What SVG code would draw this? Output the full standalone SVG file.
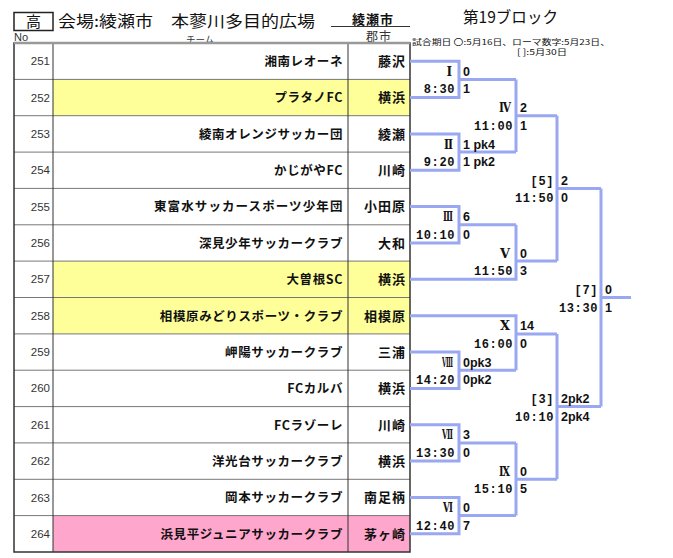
<svg xmlns="http://www.w3.org/2000/svg" width="673" height="558" viewBox="0 0 673 558">
<style>
.jp{font-family:"Noto Sans CJK JP","Liberation Sans",sans-serif}
.no{font-family:"Liberation Sans",sans-serif;font-size:11.5px;fill:#333;text-anchor:end}
.team{font-family:"Noto Sans CJK JP",sans-serif;font-size:12.5px;font-weight:bold;fill:#111;text-anchor:end;letter-spacing:0.6px}
.city{font-family:"Noto Sans CJK JP",sans-serif;font-size:13px;font-weight:bold;fill:#111;text-anchor:end;letter-spacing:1px}
.rn{font-family:"DejaVu Serif","Noto Sans CJK JP",serif;font-size:12px;font-weight:bold;fill:#111;text-anchor:end}
.tm{font-family:"Liberation Mono",monospace;font-size:12px;font-weight:bold;fill:#111;text-anchor:end;letter-spacing:0.6px}
.sc{font-family:"Liberation Sans",sans-serif;font-size:12.5px;font-weight:bold;fill:#111}
.ln{fill:none;stroke:#9aa8f2;stroke-width:3}
.rowline{stroke:#777;stroke-width:1}
</style>
<rect width="673" height="558" fill="#fff"/>
<g id="header">
<rect x="14" y="12.5" width="39" height="18" fill="#fff" stroke="#222" stroke-width="1.5"/>
<text x="33.5" y="27" class="jp" font-size="15" text-anchor="middle" fill="#111">高</text>
<text x="58" y="27" class="jp" font-size="15.5" fill="#111" textLength="257" lengthAdjust="spacingAndGlyphs">会場:綾瀬市　本蓼川多目的広場</text>
<text x="352" y="24" class="jp" font-size="13" font-weight="bold" fill="#111" letter-spacing="1">綾瀬市</text>
<line x1="331" y1="26.5" x2="410" y2="26.5" stroke="#333" stroke-width="1"/>
<text x="463" y="22.5" class="jp" font-size="16" fill="#111" textLength="95" lengthAdjust="spacingAndGlyphs">第19ブロック</text>
<text x="14" y="41" font-family="Liberation Sans, sans-serif" font-size="11" fill="#333">No</text>
<text x="200" y="42.5" class="jp" font-size="9.5" fill="#333" text-anchor="middle">チーム</text>
<text x="392" y="41" class="jp" font-size="12" fill="#333" text-anchor="end" letter-spacing="1">郡市</text>
<text x="412" y="44.5" class="jp" font-size="8" fill="#111" textLength="198" lengthAdjust="spacingAndGlyphs">試合期日 〇:5月16日、ローマ数字:5月23日、</text>
<text x="517" y="55" class="jp" font-size="8" fill="#111" textLength="50" lengthAdjust="spacingAndGlyphs">[ ]:5月30日</text>
</g>
<g id="table">
<rect x="53" y="79.4" width="357" height="36.4" fill="#ffff99"/>
<rect x="53" y="261.1" width="357" height="72.7" fill="#ffff99"/>
<rect x="53" y="515.6" width="357" height="36.4" fill="#ffa6cc"/>
<g class="rowline">
<line x1="14" y1="79.4" x2="410" y2="79.4"/><line x1="14" y1="115.7" x2="410" y2="115.7"/>
<line x1="14" y1="152.1" x2="410" y2="152.1"/><line x1="14" y1="188.4" x2="410" y2="188.4"/>
<line x1="14" y1="224.8" x2="410" y2="224.8"/><line x1="14" y1="261.1" x2="410" y2="261.1"/>
<line x1="14" y1="297.5" x2="410" y2="297.5"/><line x1="14" y1="333.9" x2="410" y2="333.9"/>
<line x1="14" y1="370.2" x2="410" y2="370.2"/><line x1="14" y1="406.6" x2="410" y2="406.6"/>
<line x1="14" y1="442.9" x2="410" y2="442.9"/><line x1="14" y1="479.3" x2="410" y2="479.3"/>
<line x1="14" y1="515.6" x2="410" y2="515.6"/>
</g>
<line x1="53" y1="43" x2="53" y2="552" stroke="#333" stroke-width="1"/>
<line x1="348" y1="43" x2="348" y2="552" stroke="#333" stroke-width="1"/>
<rect x="14" y="43" width="396" height="509" fill="none" stroke="#333" stroke-width="1.5"/>
<line x1="14" y1="43" x2="410" y2="43" stroke="#999" stroke-width="2.5"/>
</g>
<g id="team-251"><text class="no" x="50" y="65.2">251</text><text class="team" x="343" y="66">湘南レオーネ</text><text class="city" x="406" y="66">藤沢</text></g>
<g id="team-252"><text class="no" x="50" y="101.5">252</text><text class="team" x="343" y="102.3">プラタノFC</text><text class="city" x="406" y="102.3">横浜</text></g>
<g id="team-253"><text class="no" x="50" y="137.9">253</text><text class="team" x="343" y="138.7">綾南オレンジサッカー団</text><text class="city" x="406" y="138.7">綾瀬</text></g>
<g id="team-254"><text class="no" x="50" y="174.2">254</text><text class="team" x="343" y="175">かじがやFC</text><text class="city" x="406" y="175">川崎</text></g>
<g id="team-255"><text class="no" x="50" y="210.6">255</text><text class="team" x="343" y="211.4" textLength="189" lengthAdjust="spacing">東富水サッカースポーツ少年団</text><text class="city" x="406" y="211.4">小田原</text></g>
<g id="team-256"><text class="no" x="50" y="247">256</text><text class="team" x="343" y="247.8">深見少年サッカークラブ</text><text class="city" x="406" y="247.8">大和</text></g>
<g id="team-257"><text class="no" x="50" y="283.3">257</text><text class="team" x="343" y="284.1">大曽根SC</text><text class="city" x="406" y="284.1">横浜</text></g>
<g id="team-258"><text class="no" x="50" y="319.7">258</text><text class="team" x="343" y="320.5">相模原みどりスポーツ・クラブ</text><text class="city" x="406" y="320.5">相模原</text></g>
<g id="team-259"><text class="no" x="50" y="356">259</text><text class="team" x="343" y="356.8">岬陽サッカークラブ</text><text class="city" x="406" y="356.8">三浦</text></g>
<g id="team-260"><text class="no" x="50" y="392.4">260</text><text class="team" x="343" y="393.2">FCカルバ</text><text class="city" x="406" y="393.2">横浜</text></g>
<g id="team-261"><text class="no" x="50" y="428.8">261</text><text class="team" x="343" y="429.6">FCラゾーレ</text><text class="city" x="406" y="429.6">川崎</text></g>
<g id="team-262"><text class="no" x="50" y="465.1">262</text><text class="team" x="343" y="465.9">洋光台サッカークラブ</text><text class="city" x="406" y="465.9">横浜</text></g>
<g id="team-263"><text class="no" x="50" y="501.5">263</text><text class="team" x="343" y="502.3">岡本サッカークラブ</text><text class="city" x="406" y="502.3">南足柄</text></g>
<g id="team-264"><text class="no" x="50" y="537.8">264</text><text class="team" x="343" y="538.6">浜見平ジュニアサッカークラブ</text><text class="city" x="406" y="538.6">茅ヶ崎</text></g>
<g id="connectors" class="ln">
<path d="M410 61.2H459V97.5H410M459 79.4H516"/>
<path d="M410 133.9H459V170.3H410M459 152.1H516"/>
<path d="M516 79.4V152.1M516 115.7H557"/>
<path d="M410 206.6H459V243H410M459 224.8H516"/>
<path d="M516 224.8V279.3H410M516 261.1H557"/>
<path d="M557 115.7V261.1M557 188.4H601"/>
<path d="M410 315.7H516V370.2M516 333.9H557"/>
<path d="M410 352H459V388.4H410M459 370.2H516"/>
<path d="M410 424.8H459V461.1H410M459 442.9H516"/>
<path d="M410 497.5H459V533.8H410M459 515.6H516"/>
<path d="M516 442.9V515.6M516 479.3H557"/>
<path d="M557 333.9V479.3M557 406.6H601"/>
<path d="M601 188.4V406.6M601 297.5H631"/>
</g>
<g id="match-I"><text class="rn" x="452" y="75.9">Ⅰ</text><text class="tm" x="455" y="93.4">8:30</text><text class="sc" x="463" y="75.9">0</text><text class="sc" x="463" y="93.4">1</text></g>
<g id="match-II"><text class="rn" x="453" y="148.6" textLength="9" lengthAdjust="spacingAndGlyphs">Ⅱ</text><text class="tm" x="455" y="166.1">9:20</text><text class="sc" x="463" y="148.6">1 pk4</text><text class="sc" x="463" y="166.1">1 pk2</text></g>
<g id="match-III"><text class="rn" x="453" y="221.3" textLength="10" lengthAdjust="spacingAndGlyphs">Ⅲ</text><text class="tm" x="455" y="238.8">10:10</text><text class="sc" x="463" y="221.3">6</text><text class="sc" x="463" y="238.8">0</text></g>
<g id="match-VIII"><text class="rn" x="453" y="366.7" textLength="11" lengthAdjust="spacingAndGlyphs">Ⅷ</text><text class="tm" x="455" y="384.2">14:20</text><text class="sc" x="463" y="366.7">0pk3</text><text class="sc" x="463" y="384.2">0pk2</text></g>
<g id="match-VII"><text class="rn" x="453" y="439.4" textLength="11" lengthAdjust="spacingAndGlyphs">Ⅶ</text><text class="tm" x="455" y="456.9">13:30</text><text class="sc" x="463" y="439.4">3</text><text class="sc" x="463" y="456.9">0</text></g>
<g id="match-VI"><text class="rn" x="453" y="512.1" textLength="10" lengthAdjust="spacingAndGlyphs">Ⅵ</text><text class="tm" x="455" y="529.6">12:40</text><text class="sc" x="463" y="512.1">0</text><text class="sc" x="463" y="529.6">7</text></g>
<g id="match-IV"><text class="rn" x="511" y="112.2" textLength="12" lengthAdjust="spacingAndGlyphs">Ⅳ</text><text class="tm" x="513" y="129.7">11:00</text><text class="sc" x="520" y="112.2">2</text><text class="sc" x="520" y="129.7">1</text></g>
<g id="match-V"><text class="rn" x="510" y="257.6" textLength="10" lengthAdjust="spacingAndGlyphs">Ⅴ</text><text class="tm" x="513" y="275.1">11:50</text><text class="sc" x="520" y="257.6">0</text><text class="sc" x="520" y="275.1">3</text></g>
<g id="match-X"><text class="rn" x="510" y="330.4" textLength="10" lengthAdjust="spacingAndGlyphs">Ⅹ</text><text class="tm" x="513" y="347.9">16:00</text><text class="sc" x="520" y="330.4">14</text><text class="sc" x="520" y="347.9">0</text></g>
<g id="match-IX"><text class="rn" x="510" y="475.8" textLength="11" lengthAdjust="spacingAndGlyphs">Ⅸ</text><text class="tm" x="513" y="493.3">15:10</text><text class="sc" x="520" y="475.8">0</text><text class="sc" x="520" y="493.3">5</text></g>
<g id="match-5"><text class="tm" x="554" y="184.9">[5]</text><text class="tm" x="554" y="202.4">11:50</text><text class="sc" x="561" y="184.9">2</text><text class="sc" x="561" y="202.4">0</text></g>
<g id="match-3"><text class="tm" x="554" y="403.1">[3]</text><text class="tm" x="554" y="420.6">10:10</text><text class="sc" x="561" y="403.1">2pk2</text><text class="sc" x="561" y="420.6">2pk4</text></g>
<g id="match-7"><text class="tm" x="598" y="294">[7]</text><text class="tm" x="598" y="311.5">13:30</text><text class="sc" x="605" y="294">0</text><text class="sc" x="605" y="311.5">1</text></g>
</svg>
